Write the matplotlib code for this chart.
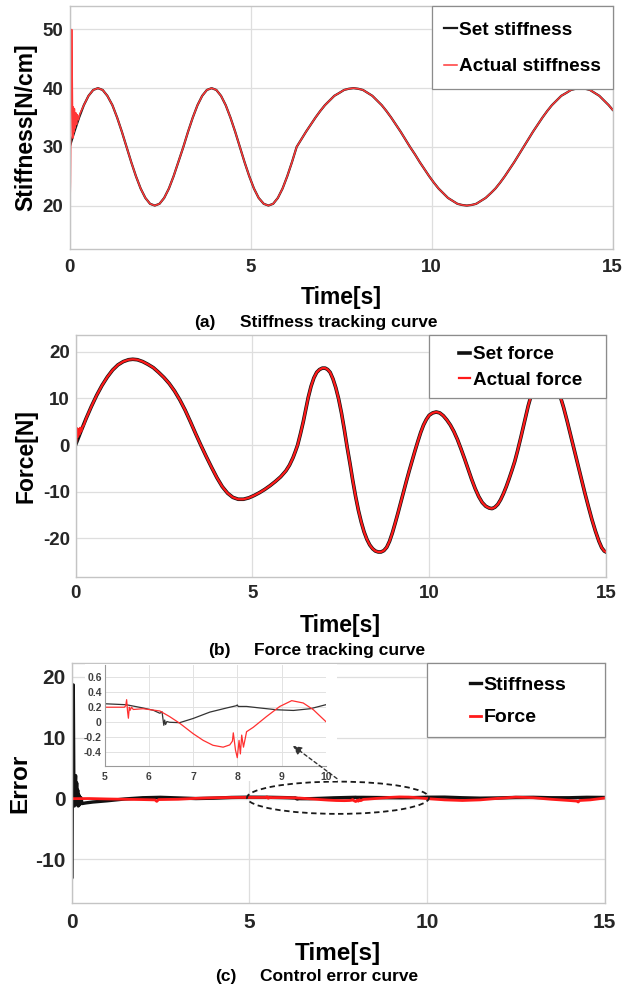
import matplotlib.pyplot as plt
from matplotlib.patches import Ellipse, Rectangle

plt.rcParams['font.family'] = ['Liberation Sans', 'DejaVu Sans']
plt.rcParams['font.weight'] = 'bold'
plt.rcParams['axes.labelweight'] = 'bold'

# ---- (a) stiffness tracking [N/cm] ----
# first stage, 0 - 6.27 s
stiff_t1 = [0.00, 0.13, 0.26, 0.39, 0.52, 0.65, 0.78, 0.91, 1.04, 1.18, 1.31, 1.44,
            1.57, 1.70, 1.83, 1.96, 2.09, 2.22, 2.35, 2.48, 2.61, 2.74, 2.87, 3.00,
            3.14, 3.27, 3.40, 3.53, 3.66, 3.79, 3.92, 4.05, 4.18, 4.31, 4.44, 4.57,
            4.70, 4.83, 4.96, 5.09, 5.22, 5.36, 5.49, 5.62, 5.75, 5.88, 6.01, 6.14]
stiff_v1 = [30, 32.6, 35, 37.1, 38.7, 39.7, 40, 39.7, 38.7, 37.1, 35, 32.6,
            30, 27.4, 25, 22.9, 21.3, 20.3, 20, 20.3, 21.3, 22.9, 25, 27.4,
            30, 32.6, 35, 37.1, 38.7, 39.7, 40, 39.7, 38.7, 37.1, 35, 32.6,
            30, 27.4, 25, 22.9, 21.3, 20.3, 20, 20.3, 21.3, 22.9, 25, 27.4]
# second stage, 6.27 - 15 s
stiff_t2 = [6.27, 6.40, 6.53, 6.66, 6.79, 6.92, 7.05, 7.18, 7.31, 7.45, 7.58, 7.71,
            7.84, 7.97, 8.10, 8.23, 8.36, 8.49, 8.62, 8.75, 8.88, 9.01, 9.14, 9.27,
            9.40, 9.54, 9.67, 9.80, 9.93, 10.06, 10.19, 10.32, 10.45, 10.58, 10.71,
            10.84, 10.97, 11.10, 11.23, 11.36, 11.49, 11.63, 11.76, 11.89, 12.02,
            12.15, 12.28, 12.41, 12.54, 12.67, 12.80, 12.93, 13.06, 13.19, 13.32,
            13.45, 13.58, 13.72, 13.85, 13.98, 14.11, 14.24, 14.37, 14.50, 14.63,
            14.76, 14.89, 15.00]
stiff_v2 = [30, 31.3, 32.6, 33.8, 35, 36.1, 37.1, 37.9, 38.7, 39.2, 39.7, 39.9,
            40, 39.9, 39.7, 39.2, 38.7, 37.9, 37.1, 36.1, 35, 33.8, 32.6, 31.3,
            30, 28.7, 27.4, 26.2, 25, 23.9, 22.9, 22.1, 21.3, 20.8, 20.3,
            20.1, 20, 20.1, 20.3, 20.8, 21.3, 22.1, 22.9, 23.9, 25,
            26.2, 27.4, 28.7, 30, 31.3, 32.6, 33.8, 35, 36.1, 37.1,
            37.9, 38.7, 39.2, 39.7, 39.9, 40, 39.9, 39.7, 39.2, 38.7,
            37.9, 37.1, 36.3]
stiff_t = stiff_t1 + stiff_t2
stiff_set = stiff_v1 + stiff_v2
# start-up transient of the measured stiffness
stiff_act_t0 = [0.0, 0.02, 0.04, 0.055, 0.07, 0.085, 0.10, 0.115, 0.13, 0.15,
                0.17, 0.19, 0.21, 0.24, 0.28]
stiff_act_v0 = [16.5, 24, 40, 50, 42, 31.5, 36.8, 32.5, 36.5, 33.2,
                35.8, 33.8, 35.5, 34.6, 35.6]
stiff_act_t = stiff_act_t0 + stiff_t[3:]
stiff_act = stiff_act_v0 + stiff_set[3:]

# ---- (b) force tracking [N] ----
force_t1 = [0.00, 0.15, 0.30, 0.45, 0.60, 0.75, 0.90, 1.05, 1.20, 1.35, 1.50, 1.62,
            1.75, 1.90, 2.05, 2.20, 2.35, 2.50, 2.65, 2.80, 2.95, 3.10, 3.25, 3.40,
            3.55, 3.70, 3.85, 4.00, 4.15, 4.30, 4.45, 4.60, 4.75, 4.90, 5.05, 5.20,
            5.35, 5.50, 5.65, 5.80, 5.95, 6.05, 6.15, 6.22]
force_v1 = [0.0, 2.9, 5.7, 8.3, 10.7, 12.8, 14.6, 16.1, 17.2, 17.9, 18.3, 18.4,
            18.3, 17.9, 17.3, 16.6, 15.6, 14.5, 13.2, 11.6, 9.7, 7.5, 5.0, 2.4,
            -0.1, -2.5, -4.8, -7.0, -8.9, -10.3, -11.2, -11.6, -11.6, -11.3, -10.8, -10.2,
            -9.5, -8.7, -7.8, -6.8, -5.5, -4.3, -2.7, -1.3]
force_t2 = [6.28, 6.36, 6.44, 6.51, 6.58, 6.66, 6.74, 6.82, 6.90, 6.98, 7.06, 7.13,
            7.20, 7.28, 7.36, 7.44, 7.52, 7.60, 7.68, 7.76, 7.84, 7.92, 8.00, 8.08,
            8.16, 8.24, 8.32, 8.40, 8.48, 8.56, 8.64, 8.72, 8.80, 8.88, 8.96, 9.04,
            9.12, 9.20, 9.28, 9.36, 9.44, 9.52, 9.60, 9.68, 9.76, 9.84, 9.92, 10.00,
            10.10, 10.20, 10.30, 10.40, 10.50, 10.60, 10.70, 10.80, 10.90, 11.00,
            11.10, 11.20, 11.30, 11.40, 11.50, 11.60, 11.70, 11.78, 11.86, 11.94,
            12.02, 12.10, 12.18, 12.26, 12.34, 12.42, 12.50, 12.60, 12.70, 12.80,
            12.90, 13.00, 13.10, 13.20, 13.30, 13.40, 13.50, 13.60, 13.70, 13.80,
            13.90, 14.00, 14.10, 14.20, 14.30, 14.40, 14.50, 14.60, 14.70, 14.80,
            14.88, 14.95, 15.00]
force_v2 = [0.0, 2.4, 5.0, 7.6, 10.2, 12.6, 14.4, 15.6, 16.2, 16.5, 16.5, 16.2,
            15.6, 14.2, 12.3, 9.9, 6.9, 3.4, -0.4, -3.9, -7.6, -11.0, -14.0, -16.5,
            -18.6, -20.2, -21.4, -22.2, -22.7, -22.9, -22.9, -22.6, -21.9, -20.6, -18.8, -16.7,
            -14.5, -12.2, -9.9, -7.6, -5.4, -3.3, -1.2, 0.8, 2.7, 4.3, 5.5, 6.4,
            6.9, 7.1, 6.9, 6.3, 5.4, 4.3, 2.9, 1.2, -0.8, -2.9,
            -5.1, -7.3, -9.3, -11.0, -12.3, -13.1, -13.5, -13.6, -13.3, -12.7,
            -11.7, -10.4, -8.9, -7.2, -5.4, -3.5, -1.2, 1.9, 5.2, 8.4,
            11.1, 13.3, 14.8, 15.7, 16.0, 15.6, 14.4, 12.7, 10.6, 8.1,
            5.2, 2.1, -1.0, -4.1, -7.2, -10.2, -13.1, -15.9, -18.4, -20.6,
            -22.0, -22.7, -22.9]
force_t = force_t1 + force_t2
force_set = force_v1 + force_v2
force_act_t0 = [0.0, 0.03, 0.05, 0.07, 0.09, 0.11, 0.13, 0.16, 0.20, 0.24]
force_act_v0 = [0.0, 1.2, 3.6, 1.8, 3.4, 2.3, 3.7, 2.9, 3.9, 4.4]
force_act_t = force_act_t0 + force_t[2:]
force_act = force_act_v0 + force_set[2:]

# ---- (c) control errors ----
err_stiff_t = [0.0, 0.005, 0.025, 0.05, 0.065, 0.08, 0.10, 0.115, 0.13, 0.145, 0.16,
               0.175, 0.19, 0.21, 0.23, 0.26, 0.30, 0.40, 0.60, 1.00, 1.50, 2.00,
               2.50, 3.00, 3.50, 4.00, 4.50, 5.00, 5.49, 5.87, 6.10, 6.25, 6.28,
               6.30, 6.32, 6.34, 6.36, 6.38, 6.41, 6.47, 6.70, 7.00, 7.38, 7.76,
               7.98, 8.00, 8.02, 8.21, 8.51, 8.89, 9.27, 9.65, 10.00, 10.5, 11.0,
               11.5, 12.0, 12.5, 13.0, 13.5, 14.0, 14.5, 15.0]
err_stiff = [0.0, -13.1, 6.0, 18.7, 3.0, -1.2, 2.0, 3.8, -0.9, 2.6, -1.0,
             1.4, -1.2, 0.6, -1.0, 0.2, -0.8, -0.7, -0.55, -0.35, -0.05, 0.15,
             0.22, 0.12, 0.02, 0.08, 0.2, 0.246, 0.233, 0.19, 0.16, 0.12, 0.13,
             0.14, 0.05, -0.04, 0.03, -0.03, 0.01, 0.0, -0.005, 0.05, 0.135, 0.19,
             0.22, 0.23, 0.21, 0.21, 0.19, 0.166, 0.157, 0.18, 0.233, 0.25, 0.15,
             0.08, 0.12, 0.2, 0.22, 0.15, 0.15, 0.22, 0.2]
err_force_t = [0.0, 0.5, 1.0, 1.5, 2.0, 2.35, 2.40, 2.45, 3.0, 3.5, 4.0, 4.5,
               5.00, 5.45, 5.48, 5.50, 5.52, 5.54, 5.56, 5.58, 5.61, 5.65, 5.87,
               6.25, 6.47, 6.70, 7.00, 7.23, 7.45, 7.68, 7.83, 7.89, 7.91, 7.96,
               8.00, 8.04, 8.07, 8.10, 8.14, 8.21, 8.36, 8.66, 8.96, 9.23, 9.49,
               9.72, 10.00, 10.5, 11.0, 11.5, 12.0, 12.5, 13.0, 13.5, 14.0, 14.22,
               14.26, 14.30, 14.6, 15.0]
err_force = [0.0, 0.02, -0.05, -0.1, -0.15, -0.2, -0.45, -0.15, -0.1, 0.05, 0.15, 0.2,
             0.2, 0.2, 0.22, 0.3, 0.15, 0.054, 0.2, 0.16, 0.2, 0.17, 0.18,
             0.15, 0.076, -0.013, -0.15, -0.24, -0.305, -0.33, -0.3, -0.25, -0.14, -0.37,
             -0.47, -0.24, -0.42, -0.17, -0.33, -0.125, -0.067, 0.076, 0.21, 0.287, 0.256,
             0.166, 0.01, -0.2, -0.3, -0.2, 0.05, 0.25, 0.15, -0.1, -0.3, -0.4,
             -0.55, -0.3, -0.2, 0.1]

GRID = '#dedede'
SPINE = '#c4c4c4'
TICK = '#262626'
W, H = 642, 988


def frame(x0, y0, x1, y1):
    # pixel box (top-left origin) -> figure fraction rect
    return [x0 / W, 1 - y1 / H, (x1 - x0) / W, (y1 - y0) / H]


def style(ax, ylim, yticks, fs, xpad, ypad):
    ax.set_xlim(0, 15)
    ax.set_ylim(*ylim)
    ax.set_xticks([0, 5, 10, 15], ['0', '5', '10', '15'])
    ax.set_yticks(yticks, [str(v) for v in yticks])
    ax.grid(True, color=GRID, lw=0.9)
    ax.set_axisbelow(True)
    for s in ax.spines.values():
        s.set_color(SPINE)
        s.set_linewidth(1.0)
    ax.tick_params(length=0, labelsize=fs, labelcolor=TICK)
    ax.tick_params(axis='x', pad=xpad)
    ax.tick_params(axis='y', pad=ypad)


def labels(ax, ylabel, yx, xy, fs):
    ax.set_xlabel('Time[s]', fontsize=fs, fontweight='bold')
    ax.set_ylabel(ylabel, fontsize=fs, fontweight='bold')
    ax.xaxis.set_label_coords(0.5, xy)
    ax.xaxis.label.set_verticalalignment('center')
    ax.yaxis.set_label_coords(yx, 0.5)
    ax.yaxis.label.set_verticalalignment('center')


def boxed_legend(ax, bottom, anchor_x, anchor_y, fs, spacing, hl):
    ax.add_patch(Rectangle((2 / 3, bottom), 1 / 3, 1 - bottom, transform=ax.transAxes,
                           fc='white', ec='#8c8c8c', lw=0.9, zorder=4, clip_on=False))
    leg = ax.legend(loc='center left', bbox_to_anchor=(anchor_x, anchor_y), frameon=False,
                    borderpad=0, fontsize=fs, labelspacing=spacing, handlelength=hl,
                    handletextpad=0.12)
    leg.set_zorder(5)


fig = plt.figure(figsize=(W / 100, H / 100), dpi=100, facecolor='white')

# (a)
ax_a = fig.add_axes(frame(69.7, 6, 612.7, 249))
ax_a.plot(stiff_t, stiff_set, color='#1a1a1a', lw=1.6, label='Set stiffness')
ax_a.plot(stiff_act_t, stiff_act, color='#ff3838', lw=1.1, label='Actual stiffness')
style(ax_a, (12.6, 54), [20, 30, 40, 50], 13.5, 7.5, 4.5)
labels(ax_a, 'Stiffness[N/cm]', -0.08, -0.20, 16.5)
boxed_legend(ax_a, 0.658, 0.671, 0.825, 13.7, 1.0, 0.68)

# (b)
ax_b = fig.add_axes(frame(75.5, 335, 606, 576.7))
ax_b.plot(force_t, force_set, color='#111111', lw=2.6, label='Set force')
ax_b.plot(force_act_t, force_act, color='#ff1a1a', lw=1.6, label='Actual force')
style(ax_b, (-28.2, 23.6), [-20, -10, 0, 10, 20], 13.5, 6.3, 4.0)
labels(ax_b, 'Force[N]', -0.093, -0.20, 16.5)
boxed_legend(ax_b, 0.738, 0.705, 0.865, 13.6, 0.45, 0.6)

# (c)
ax_c = fig.add_axes(frame(71.5, 663, 604.5, 903.3))
ax_c.plot(err_stiff_t, err_stiff, color='#111111', lw=2.4, label='Stiffness')
ax_c.plot(err_force_t, err_force, color='#ff1a1a', lw=2.0, label='Force')
style(ax_c, (-17.2, 22.3), [-10, 0, 10, 20], 15, 7.0, 4.2)
labels(ax_c, 'Error', -0.096, -0.209, 17.5)
boxed_legend(ax_c, 0.691, 0.729, 0.8406, 14.0, 0.78, 0.6)
ax_c.add_patch(Ellipse((7.5, 0.15), 5.12, 5.3, fill=False, ls=(0, (3, 2)),
                       lw=1.3, ec='#1a1a1a', zorder=3))

# white backdrop for the zoomed view
fig.add_artist(Rectangle((85 / W, 1 - 781 / H), 252 / W, (781 - 664) / H,
                         transform=fig.transFigure, fc='white', ec='none', zorder=5))

axin = fig.add_axes(frame(104.5, 665, 325.8, 766))
axin.set_zorder(6)
axin.plot(err_stiff_t, err_stiff, color='#333333', lw=0.9)
axin.plot(err_force_t, err_force, color='#ff3030', lw=0.9)
axin.set_xlim(5, 10)
axin.set_ylim(-0.58, 0.76)
axin.set_xticks([5, 6, 7, 8, 9, 10], ['5', '6', '7', '8', '9', '10'])
axin.set_yticks([-0.4, -0.2, 0, 0.2, 0.4, 0.6], ['-0.4', '-0.2', '0', '0.2', '0.4', '0.6'])
axin.grid(True, color='#e2e2e2', lw=0.7)
axin.set_axisbelow(True)
axin.spines['top'].set_visible(False)
axin.spines['right'].set_visible(False)
for s in ('left', 'bottom'):
    axin.spines[s].set_color('#9a9a9a')
    axin.spines[s].set_linewidth(0.8)
axin.tick_params(length=0, labelsize=7.5, labelcolor='#404040', pad=2)
axin.tick_params(axis='x', pad=4)

# pointer from the circled region to the zoomed view
axin.annotate('', xy=(6.23, 8.7), xycoords=ax_c.transData,
              xytext=(7.47, 3.3), textcoords=ax_c.transData,
              arrowprops=dict(arrowstyle='-|>', ls=(0, (2.5, 2)), color='#333333',
                              lw=1.0, mutation_scale=13, shrinkA=0, shrinkB=0))

# sub-figure captions
for tag, title, xtag, xtitle, yc in [('(a)', 'Stiffness tracking curve', 205, 240, 323),
                                     ('(b)', 'Force tracking curve', 219.5, 254, 650),
                                     ('(c)', 'Control error curve', 225.5, 260, 976)]:
    fig.text(xtag / W, 1 - yc / H, tag, ha='center', va='center', fontsize=12.5)
    fig.text(xtitle / W, 1 - yc / H, title, ha='left', va='center', fontsize=12.5)

fig.savefig('out.png', dpi=100)
